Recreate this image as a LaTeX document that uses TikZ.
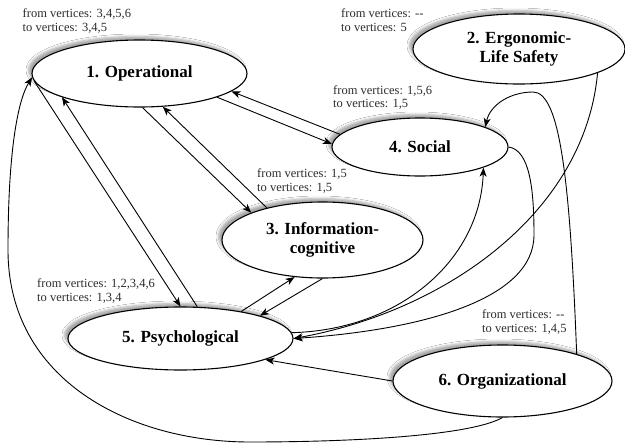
\documentclass[tikz,border=0pt]{standalone}
\usepackage{fontspec}
\setmainfont{Liberation Serif}
\usetikzlibrary{shapes.geometric,arrows.meta,shadows.blur}
\definecolor{labgray}{RGB}{45,45,45}
\begin{document}
\begin{tikzpicture}[x=1pt,y=-1pt,
  vert/.style={ellipse, draw, line width=1.1pt, fill=white, inner sep=0pt, align=center,
    font=\bfseries\fontsize{17}{19.5}\selectfont,
    blur shadow={shadow xshift=-3.5pt, shadow yshift=3.5pt, shadow blur radius=2.5pt, shadow opacity=35}},
  lab/.style={anchor=base west, inner sep=0pt, font=\fontsize{12.5}{14}\selectfont, text=labgray},
  edge/.style={line width=0.9pt, -{Stealth[length=9pt,width=7pt,inset=2.5pt]}}
]
\useasboundingbox[fill=white] (0,0) rectangle (625,445);

\node[vert, minimum width=215pt, minimum height=67pt] (n1) at (139.5,73.5) {1. Operational};
\node[vert, minimum width=212pt, minimum height=70pt] (n2) at (519,49) {2. Ergonomic-\\Life Safety};
\node[vert, minimum width=201pt, minimum height=76pt] (n3) at (322.5,240) {3. Information-\\cognitive};
\node[vert, minimum width=176pt, minimum height=58pt] (n4) at (420,147) {4. Social};
\node[vert, minimum width=225pt, minimum height=63pt] (n5) at (180.5,338.5) {5. Psychological};
\node[vert, minimum width=219pt, minimum height=72pt] (n6) at (502.5,381) {6. Organizational};

\node[lab] (l1a) at (22.5,17.5) {from vertices: 3,4,5,6};
\node[lab] (l1b) at (22.5,31.5) {to vertices: 3,4,5};
\node[lab] (l2a) at (341,17.5) {from vertices: -{}-};
\node[lab] (l2b) at (341,31.5) {to vertices: 5};
\node[lab] (l4a) at (333,94) {from vertices: 1,5,6};
\node[lab] (l4b) at (333,107.5) {to vertices: 1,5};
\node[lab] (l3a) at (257,177) {from vertices: 1,5};
\node[lab] (l3b) at (257,191) {to vertices: 1,5};
\node[lab] (l5a) at (37,287) {from vertices: 1,2,3,4,6};
\node[lab] (l5b) at (37,301) {to vertices: 1,3,4};
\node[lab] (l6a) at (482,318.5) {from vertices: -{}-};
\node[lab] (l6b) at (482,332.5) {to vertices: 1,4,5};

% 1 <-> 4
\draw[edge] (n1.-17.5) -- (n4.178);
\draw[edge] (n4.171.8) -- (n1.-11);
% 1 <-> 3
\draw[edge] (n1.-85.7) -- (n3.159.5);
\draw[edge] (n3.150.3) -- (n1.-55.5);
% 1 <-> 5
\draw[edge] (n1.-176.4) -- (n5.90.9);
\draw[edge] (n5.62.4) -- (n1.-163.6);
% 3 <-> 5
\draw[edge] (n5.24.9) -- (n3.-127.8);
\draw[edge] (n3.-90.8) -- (n5.16.1);
% 6 -> 5
\draw[edge] (n6.180) -- (n5.-14.9);
% 6 -> 1
\draw[edge] (n6.south) .. controls (470,436) and (350,442) .. (250,442)
  .. controls (130,442) and (8,380) .. (8,250)
  .. controls (8,150) and (18,100) .. (n1.182);
% 6 -> 4
\draw[edge] (n6.20.6) .. controls (570,180) and (560,92) .. (533,92)
  .. controls (510,92) and (490,105) .. (n4.17);
% 2 -> 5
\draw[edge] (n2.-17) .. controls (585,210) and (450,310) .. (n5.east);
% 4 -> 5
\draw[edge] (n4.east) .. controls (530,150) and (534,190) .. (534,235)
  .. controls (534,300) and (420,330) .. (n5.east);
% 5 -> 4
\draw[edge] (n5.3) .. controls (400,330) and (480,260) .. (n4.-18);
\end{tikzpicture}
\end{document}
